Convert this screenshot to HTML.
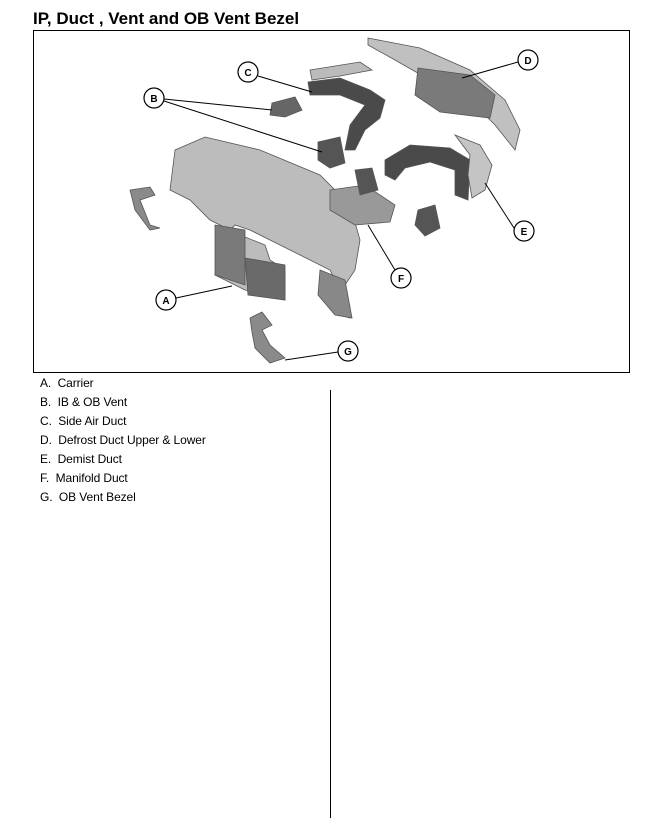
<!DOCTYPE html>
<html><head><style>
body{margin:0;background:#fff;width:652px;height:831px;position:relative;font-family:"Liberation Sans",Arial,sans-serif;}
h1{position:absolute;left:33px;top:9px;margin:0;font-size:17px;font-weight:bold;color:#000;}
.box{position:absolute;left:33px;top:30px;width:595px;height:341px;border:1px solid #000;}
.leg{position:absolute;left:40px;top:374px;font-size:12px;line-height:19px;color:#000;letter-spacing:-0.1px;}
.vl{position:absolute;left:330px;top:390px;width:1px;height:428px;background:#000;}
</style></head><body>
<h1>IP, Duct , Vent and OB Vent Bezel</h1>
<div class="box"></div>
<svg width="652" height="831" style="position:absolute;left:0;top:0">
<g fill="#9a9a9a" stroke="#555" stroke-width="0.8">
<path d="M175,150 L205,137 L260,150 L320,175 L350,205 L360,240 L355,270 L345,285 L330,300 L340,315 L350,318 L345,300 L330,270 L300,255 L270,240 L250,230 L235,225 L220,240 L215,275 L245,290 L285,300 L285,270 L270,260 L265,245 L240,235 L210,220 L190,200 L170,190 Z" fill="#bcbcbc"/>
<path d="M245,258 L285,265 L285,300 L248,295 Z" fill="#6a6a6a"/>
<path d="M215,225 L245,230 L245,285 L215,275 Z" fill="#7a7a7a"/>
<path d="M320,270 L345,280 L352,318 L335,315 L318,295 Z" fill="#888"/>
<path d="M130,190 L150,187 L155,195 L140,200 L150,225 L160,228 L150,230 L135,210 Z" fill="#8a8a8a"/>
<path d="M250,318 L262,312 L272,325 L262,330 L270,345 L285,358 L270,363 L255,348 L252,332 Z" fill="#8a8a8a"/>
<path d="M272,103 L295,97 L302,110 L285,117 L270,115 Z" fill="#666"/>
<path d="M318,142 L340,137 L345,163 L330,168 L318,160 Z" fill="#555"/>
<path d="M308,82 L340,78 L370,90 L385,100 L380,118 L365,130 L355,150 L345,150 L350,125 L365,105 L340,95 L310,95 Z" fill="#4a4a4a"/>
<path d="M310,70 L360,62 L372,70 L340,76 L312,80 Z" fill="#bbb"/>
<path d="M368,38 L420,48 L470,70 L505,100 L520,130 L515,150 L495,125 L470,100 L430,80 L395,60 L368,45 Z" fill="#c0c0c0"/>
<path d="M418,68 L470,75 L495,95 L490,118 L440,112 L415,95 Z" fill="#7a7a7a"/>
<path d="M385,160 L410,145 L450,148 L470,160 L468,200 L455,195 L455,170 L430,162 L405,168 L395,180 L385,175 Z" fill="#4a4a4a"/>
<path d="M455,135 L480,145 L492,165 L485,190 L472,198 L468,175 L470,155 Z" fill="#c4c4c4"/>
<path d="M330,190 L365,185 L395,205 L390,222 L355,225 L330,210 Z" fill="#999"/>
<path d="M355,170 L372,168 L378,190 L360,195 Z" fill="#555"/>
<path d="M418,210 L435,205 L440,228 L425,236 L415,225 Z" fill="#555"/>
</g>
<g stroke="#000" stroke-width="1" fill="none">
<line x1="258" y1="76" x2="312" y2="92"/>
<line x1="164" y1="99" x2="272" y2="110"/>
<line x1="164" y1="101" x2="322" y2="152"/>
<line x1="518" y1="62" x2="462" y2="78"/>
<line x1="514" y1="228" x2="485" y2="183"/>
<line x1="395" y1="270" x2="368" y2="225"/>
<line x1="176" y1="298" x2="232" y2="286"/>
<line x1="338" y1="352" x2="285" y2="360"/>
</g>
<g fill="#fff" stroke="#000" stroke-width="1.2">
<circle cx="248" cy="72" r="10"/><circle cx="154" cy="98" r="10"/>
<circle cx="528" cy="60" r="10"/><circle cx="524" cy="231" r="10"/>
<circle cx="401" cy="278" r="10"/><circle cx="166" cy="300" r="10"/>
<circle cx="348" cy="351" r="10"/>
</g>
<g font-family="Liberation Sans,Arial,sans-serif" font-size="10" font-weight="bold" text-anchor="middle">
<text x="248" y="76">C</text><text x="154" y="102">B</text>
<text x="528" y="64">D</text><text x="524" y="235">E</text>
<text x="401" y="282">F</text><text x="166" y="304">A</text>
<text x="348" y="355">G</text>
</g>
</svg>
<div class="leg">A.&nbsp; Carrier<br>B.&nbsp; IB &amp; OB Vent<br>C.&nbsp; Side Air Duct<br>D.&nbsp; Defrost Duct Upper &amp; Lower<br>E.&nbsp; Demist Duct<br>F.&nbsp; Manifold Duct<br>G.&nbsp; OB Vent Bezel</div>
<div class="vl"></div>
</body></html>
